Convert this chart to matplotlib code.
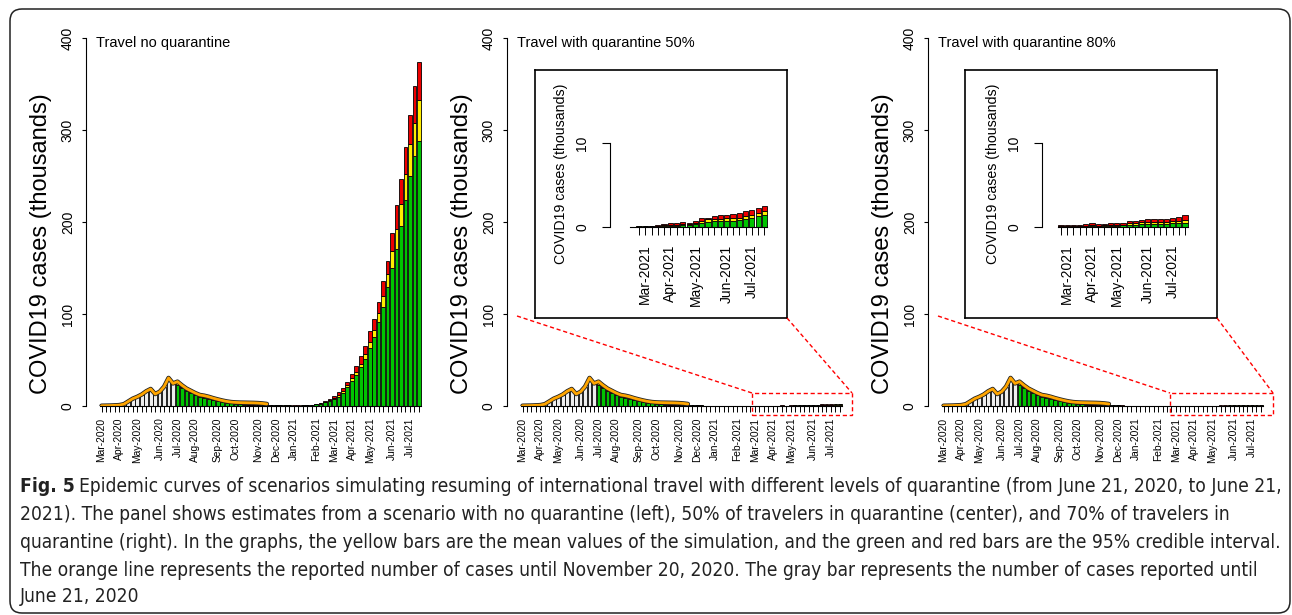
import numpy as np
import matplotlib.pyplot as plt
import matplotlib.patheffects as pe
from matplotlib.patches import Rectangle, FancyBboxPatch
from matplotlib.lines import Line2D
from matplotlib.transforms import IdentityTransform

plt.rcParams['font.family'] = ['Liberation Sans', 'DejaVu Sans']

# ---- data (thousands of cases, one bar per week from Mar 2020) ----
n_weeks = 72
month_labels = ['Mar-2020', 'Apr-2020', 'May-2020', 'Jun-2020', 'Jul-2020', 'Aug-2020',
                'Sep-2020', 'Oct-2020', 'Nov-2020', 'Dec-2020', 'Jan-2021', 'Feb-2021',
                'Mar-2021', 'Apr-2021', 'May-2021', 'Jun-2021', 'Jul-2021']
month_bars = [0, 4, 8, 13, 17, 21, 26, 30, 35, 39, 43, 48, 52, 56, 60, 65, 69]

# reported cases (orange line, until Nov 20 2020)
reported = [0.3, 0.4, 0.5, 0.7, 1.0, 2.0, 5.0, 8.0, 10.0, 12.5, 16.0, 18.5, 13.0, 15.5,
            21.0, 30.5, 24.5, 26.5, 22.5, 19.0, 16.5, 14.0, 12.0, 11.2, 10.0, 8.5, 7.2,
            6.0, 5.0, 4.3, 3.9, 3.7, 3.6, 3.5, 3.4, 3.2, 2.8, 2.2]
# gray bars: reported until June 21 2020
gray_bars = [0.3, 0.4, 0.5, 0.7, 1.0, 2.0, 5.0, 8.0, 10.0, 12.5, 16.0, 18.5, 13.0, 15.5,
             21.0, 30.5, 24.5]
sim_start = 17

# simulated weeks 17..37 (same in all scenarios)
early_low = [23, 19.5, 16.5, 14, 11.5, 10, 9, 7.5, 6.5, 5.5, 4.5, 3.5, 3.0, 2.5, 2.0,
             1.6, 1.3, 1.1, 1.0, 0.9, 0.8]
early_mean = [24.5, 21, 17.5, 15, 12.5, 10.8, 9.8, 8.2, 7, 6, 5, 4, 3.3, 2.8, 2.3,
              1.9, 1.6, 1.4, 1.2, 1.1, 1.0]
early_high = [26, 22, 18.5, 16, 13.5, 11.5, 10.5, 9, 7.7, 6.5, 5.5, 4.5, 3.7, 3.2, 2.7,
              2.2, 1.9, 1.7, 1.5, 1.4, 1.3]

# weeks 38..71 per scenario
noq_low = [0.8, 0.7, 0.6, 0.5, 0.4, 0.4, 0.4, 0.5, 0.6, 0.9, 1.7, 2.6, 3.9, 5.5, 7.9,
           10, 14.5, 21, 27.5, 34, 42, 51, 63, 75, 91, 108, 129, 150, 171, 196, 224,
           250, 272, 288]
noq_mean = [1.0, 0.9, 0.8, 0.7, 0.6, 0.5, 0.5, 0.6, 0.8, 1.1, 2.0, 3.0, 4.5, 6.4, 9.2,
            12, 16.5, 23, 30, 37, 46, 56, 70, 83, 101, 120, 143, 168, 192, 220, 252,
            285, 308, 333]
noq_high = [1.3, 1.2, 1.0, 0.9, 0.8, 0.7, 0.7, 0.8, 1.0, 1.4, 2.5, 3.6, 5.4, 7.6, 10.9,
            15.6, 20, 26, 35, 44, 54, 65, 81, 95, 113, 136, 158, 188, 218, 247, 281,
            316, 348, 374]

q50_low = [1.0, 0.65, 0.45, 0.3, 0.2, 0.17, 0.14, 0.1, 0.08, 0.06, 0.05, 0.03, 0.02,
           0.02, 0.03, 0.04, 0.08, 0.1, 0.05, 0.1, 0.15, 0.2, 0.3, 0.5, 0.6, 0.65, 0.7,
           0.7, 0.7, 0.8, 0.9, 1.0, 1.3, 1.35]
q50_mean = [1.2, 0.8, 0.55, 0.4, 0.28, 0.23, 0.19, 0.15, 0.11, 0.09, 0.07, 0.05, 0.04,
            0.03, 0.06, 0.07, 0.12, 0.18, 0.15, 0.2, 0.3, 0.3, 0.5, 0.7, 0.9, 0.9, 0.95,
            1.0, 1.05, 1.1, 1.3, 1.45, 1.7, 1.85]
q50_high = [1.5, 1.0, 0.7, 0.5, 0.35, 0.3, 0.25, 0.2, 0.15, 0.12, 0.1, 0.08, 0.06,
            0.05, 0.1, 0.1, 0.2, 0.3, 0.4, 0.4, 0.6, 0.5, 0.7, 1.0, 1.1, 1.3, 1.35, 1.45,
            1.5, 1.7, 1.9, 2.0, 2.25, 2.5]

q80_low = [1.0, 0.6, 0.4, 0.3, 0.2, 0.15, 0.12, 0.1, 0.08, 0.06, 0.05, 0.03, 0.02,
           0.02, 0.02, 0.02, 0.03, 0.05, 0.07, 0.06, 0.08, 0.1, 0.12, 0.15, 0.25, 0.25,
           0.3, 0.3, 0.35, 0.35, 0.35, 0.4, 0.4, 0.5]
q80_mean = [1.2, 0.75, 0.5, 0.38, 0.27, 0.2, 0.17, 0.13, 0.1, 0.08, 0.07, 0.05, 0.05,
            0.05, 0.05, 0.05, 0.06, 0.1, 0.15, 0.12, 0.15, 0.2, 0.25, 0.25, 0.45, 0.45,
            0.55, 0.55, 0.6, 0.6, 0.6, 0.65, 0.65, 0.75]
q80_high = [1.5, 0.95, 0.65, 0.5, 0.35, 0.28, 0.24, 0.2, 0.17, 0.15, 0.15, 0.15, 0.15,
            0.15, 0.15, 0.15, 0.15, 0.3, 0.45, 0.35, 0.35, 0.5, 0.5, 0.5, 0.7, 0.7, 0.85,
            0.95, 0.95, 0.95, 0.95, 1.05, 1.15, 1.35]

titles = ['Travel no quarantine', 'Travel with quarantine 50%', 'Travel with quarantine 80%']
scenarios = [(noq_low, noq_mean, noq_high), (q50_low, q50_mean, q50_high),
             (q80_low, q80_mean, q80_high)]
inset_start = 51

caption = [
    'Epidemic curves of scenarios simulating resuming of international travel with different levels of quarantine (from June 21, 2020, to June 21,',
    '2021). The panel shows estimates from a scenario with no quarantine (left), 50% of travelers in quarantine (center), and 70% of travelers in',
    'quarantine (right). In the graphs, the yellow bars are the mean values of the simulation, and the green and red bars are the 95% credible interval.',
    'The orange line represents the reported number of cases until November 20, 2020. The gray bar represents the number of cases reported until',
    'June 21, 2020',
]

GREEN, YELLOW, RED, GRAY = '#00c400', '#ffee00', '#ee0000', '#eeeeee'

W, H = 1292, 615
fig = plt.figure(figsize=(W / 100, H / 100), dpi=100)


def frac(x0, y0, x1, y1):
    # pixel box (top-left origin) -> figure fraction rect
    return [x0 / W, 1 - y1 / H, (x1 - x0) / W, (y1 - y0) / H]


def fx(x):
    return x / W


def fy(y):
    return 1 - y / H


def stacked(ax, idx, lo, me, hi, bw):
    lo, me, hi = np.array(lo), np.array(me), np.array(hi)
    kw = dict(width=bw, edgecolor='black', linewidth=0.6)
    ax.bar(idx, lo, color=GREEN, **kw)
    ax.bar(idx, me - lo, bottom=lo, color=YELLOW, **kw)
    ax.bar(idx, hi - me, bottom=me, color=RED, **kw)


axis_x = [86, 507, 928]
step = 4.47
insets = [None,
          dict(box=(535, 787), yax=610, k0=639, dk=6.27, base=-1.4, lab=561),
          dict(box=(965, 1217), yax=1041.7, k0=1061, dk=6.2, base=-0.5, lab=993)]
zoom_boxes = [None, (752, 852), (1170, 1273)]
zoom_start = [None, 517, 938]

for p in range(3):
    x0 = axis_x[p]
    lo = early_low + scenarios[p][0]
    me = early_mean + scenarios[p][1]
    hi = early_high + scenarios[p][2]

    ax = fig.add_axes(frac(x0, 38, x0 + 340, 406))
    ax.set_xlim(-15.5 / step, (340 - 15.5) / step)
    ax.set_ylim(0, 400)
    ax.patch.set_visible(False)
    ax.bar(np.arange(len(gray_bars)), gray_bars, width=0.83, color=GRAY,
           edgecolor='black', linewidth=0.6)
    stacked(ax, np.arange(sim_start, n_weeks), lo, me, hi, 0.83)
    ax.plot(np.arange(len(reported)), reported, color='#ffa500', lw=2.0,
            solid_capstyle='round',
            path_effects=[pe.Stroke(linewidth=3.2, foreground='#222222'), pe.Normal()])

    for s in ['top', 'right']:
        ax.spines[s].set_visible(False)
    ax.spines['left'].set_bounds(0, 400)
    ax.spines['bottom'].set_bounds(-0.42, n_weeks - 0.58)
    for s in ['left', 'bottom']:
        ax.spines[s].set_linewidth(0.8)

    xl = [''] * n_weeks
    for m, b in zip(month_labels, month_bars):
        xl[b] = m
    ax.set_xticks(np.arange(n_weeks))
    ax.set_xticklabels(xl)
    ax.tick_params(axis='x', length=4.3, width=0.7, pad=4, labelsize=7.4,
                   labelrotation=90)
    ax.set_yticks([0, 100, 200, 300, 400])
    ax.tick_params(axis='y', length=3, width=0.8, pad=5, labelsize=10)
    for t in ax.get_yticklabels():
        t.set_rotation(90)
        t.set_va('center')

    fig.text(fx(x0 - 45), fy(243.5), 'COVID19 cases (thousands)', rotation=90,
             ha='center', va='center', fontsize=17)
    fig.text(fx(x0 + 10), fy(43), titles[p], ha='left', va='center', fontsize=10.5)

    if insets[p] is None:
        continue
    g = insets[p]
    bx0, bx1 = g['box']
    fax = fig.add_axes(frac(bx0, 70, bx1, 318))
    fax.set_xticks([])
    fax.set_yticks([])
    for s in fax.spines.values():
        s.set_linewidth(1.2)

    right = bx1 - 6
    iax = fig.add_axes(frac(g['yax'], 143.3, right, 226.7))
    iax.patch.set_visible(False)
    iax.set_xlim((g['yax'] - g['k0']) / g['dk'], (right - g['k0']) / g['dk'])
    iax.set_ylim(0, 10)
    n_in = n_weeks - inset_start
    off = inset_start - sim_start
    stacked(iax, np.arange(n_in), lo[off:], me[off:], hi[off:], 0.83)
    for s in ['top', 'right']:
        iax.spines[s].set_visible(False)
    iax.spines['left'].set_bounds(0, 10)
    iax.spines['bottom'].set_bounds(g['base'], n_in - 0.58)
    for s in ['left', 'bottom']:
        iax.spines[s].set_linewidth(0.8)
    il = [''] * n_in
    for m, b in zip(month_labels, month_bars):
        if b >= inset_start:
            il[b - inset_start] = m
    iax.set_xticks(np.arange(n_in))
    iax.set_xticklabels(il)
    iax.tick_params(axis='x', length=5.8, width=0.7, pad=7, labelsize=10,
                    labelrotation=90)
    iax.set_yticks([0, 10])
    iax.tick_params(axis='y', length=5.8, width=0.8, pad=9, labelsize=10)
    for t in iax.get_yticklabels():
        t.set_rotation(90)
        t.set_va('center')
    fig.text(fx(g['lab']), fy(173.5), 'COVID19 cases (thousands)', rotation=90,
             ha='center', va='center', fontsize=10.2)

    # zoom box on the main panel and connector lines
    zx0, zx1 = zoom_boxes[p]
    fig.add_artist(Rectangle((fx(zx0), fy(415)), fx(zx1 - zx0), (415 - 393) / H,
                             transform=fig.transFigure, fill=False, edgecolor='red',
                             linewidth=1.0, linestyle=(0, (3, 2))))
    fig.add_artist(Line2D([fx(zoom_start[p]), fx(zx0)], [fy(316), fy(393)],
                          transform=fig.transFigure, color='red', lw=1.0,
                          linestyle=(0, (3, 2))))
    fig.add_artist(Line2D([fx(bx1), fx(zx1)], [fy(318), fy(393)],
                          transform=fig.transFigure, color='red', lw=1.0,
                          linestyle=(0, (3, 2))))

# outer rounded frame
fig.add_artist(FancyBboxPatch((10, 2), 1280, 604, boxstyle='round,pad=0,rounding_size=12',
                              transform=IdentityTransform(), fill=False,
                              edgecolor='#222222', linewidth=1.1))

# caption, fitted so the first line spans the page width
cap_kw = dict(family=['DejaVu Sans'], fontstretch='condensed', color='#222222',
              va='center')
renderer = fig.canvas.get_renderer()
line_y = [486, 514, 542, 570, 597]
size0 = 12
pb = fig.text(0, 0, 'Fig. 5', fontsize=size0, fontweight='bold', **cap_kw)
pr = fig.text(0, 0, caption[0], fontsize=size0, **cap_kw)
total = (pb.get_window_extent(renderer).width + size0 * 0.32 +
         pr.get_window_extent(renderer).width)
pb.remove()
pr.remove()
cap_size = size0 * 1260 / total

bold = fig.text(fx(20), fy(line_y[0]), 'Fig. 5', fontsize=cap_size, fontweight='bold',
                **cap_kw)
bw_px = bold.get_window_extent(renderer).width
fig.text(fx(20 + bw_px + cap_size * 0.32), fy(line_y[0]), caption[0], fontsize=cap_size,
         **cap_kw)
for line, y in zip(caption[1:], line_y[1:]):
    fig.text(fx(20), fy(y), line, fontsize=cap_size, **cap_kw)

fig.savefig('out.png', dpi=100)
